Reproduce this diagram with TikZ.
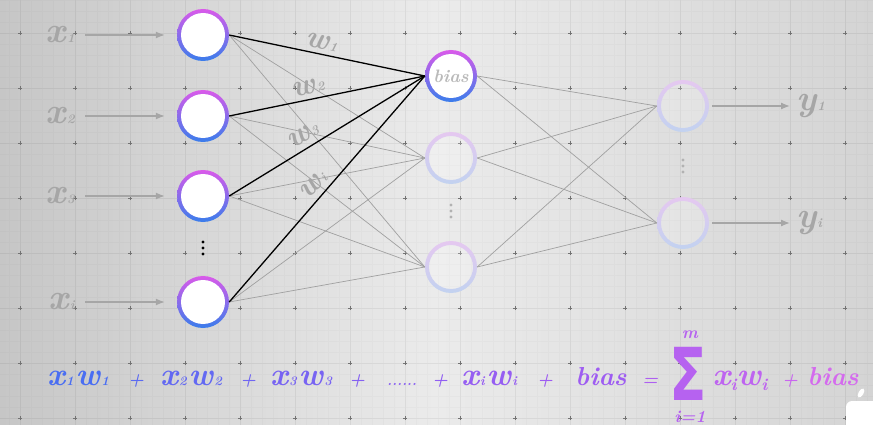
\documentclass[tikz,border=0pt]{standalone}
\usepackage{fontspec}
\newfontfamily\sigmafont{DejaVu Sans}
\usetikzlibrary{arrows.meta}

\definecolor{bgdark}{HTML}{C6C6C6}
\definecolor{bglight}{HTML}{EBEBEB}
\definecolor{bgright}{HTML}{D4D4D4}
\definecolor{ringtop}{HTML}{D95AEA}
\definecolor{ringbot}{HTML}{3A7DEB}
\definecolor{fadetop}{HTML}{E5C8F0}
\definecolor{fadebot}{HTML}{C2D2F0}
\definecolor{labgray}{HTML}{A6A6A6}
\definecolor{edgegray}{HTML}{A0A0A0}
\definecolor{eqA}{HTML}{4A6EF2}
\definecolor{eqB}{HTML}{9E5CF2}
\definecolor{eqC}{HTML}{D46AEE}

\begin{document}
\begin{tikzpicture}[
        x=1pt, y=1pt,
        neuron/.style={circle, minimum size=52pt, inner sep=0pt,
            path picture={
                \shade[top color=ringtop, bottom color=ringbot]
                    (path picture bounding box.north west) rectangle (path picture bounding box.south east);
                \fill[white] (path picture bounding box.center) circle (22);
            }},
        faded/.style={circle, minimum size=52pt, inner sep=0pt,
            path picture={
                \shade[top color=fadetop, bottom color=fadebot, even odd rule]
                    (path picture bounding box.north west) rectangle (path picture bounding box.south east)
                    (path picture bounding box.center) circle (22);
                \fill[white, opacity=0.2] (path picture bounding box.center) circle (22);
            }},
        edge/.style={draw=edgegray, line width=0.7pt},
        biasedge/.style={draw=black, line width=1.3pt},
        inarrow/.style={draw=labgray, line width=1.3pt, -{Latex[length=9pt, width=7pt]}},
        graylabel/.style={text=labgray, inner sep=1pt, font=\fontsize{36}{36}\selectfont\bfseries\itshape},
        wlabel/.style={text=labgray, inner sep=1pt, font=\fontsize{31}{31}\selectfont\bfseries\itshape},
        eqtext/.style={anchor=base, inner sep=0pt, font=\fontsize{32}{32}\selectfont\bfseries\itshape},
        gridmark/.style={black!55, line width=0.4pt}
    ]
    \def\nsub#1#2{#1\kern1pt{\fontsize{13}{13}\selectfont #2}}
    \def\esub#1#2{#1\kern1pt{\fontsize{13}{13}\selectfont #2}\kern2pt}
    \def\dsub#1#2{#1\raisebox{-5pt}{\fontsize{17}{17}\selectfont #2}}

    % background
    \useasboundingbox (0,0) rectangle (873,-425);
    \shade[left color=bgdark, right color=bgright, middle color=bglight] (0,0) rectangle (873,-425);
    \draw[black, opacity=0.02, line width=0.2pt, step=11, xshift=20pt, yshift=-33pt] (-20,33) grid (853,-392);
    \draw[black, opacity=0.04, line width=0.35pt, step=55, xshift=20pt, yshift=-33pt] (-20,33) grid (853,-392);
    \foreach \gx in {0,...,15}
        \foreach \gy in {0,...,7}
            \draw[gridmark] ({20+55*\gx},{-33-55*\gy}) +(-2,0) -- +(2,0) +(0,-2) -- +(0,2);

    % neurons
    \node[neuron] (i1) at (203,-35) {};
    \node[neuron] (i2) at (203,-116) {};
    \node[neuron] (i3) at (203,-196) {};
    \node[neuron] (i4) at (203,-302) {};
    \node[neuron, text=black!27, font=\fontsize{18}{18}\selectfont\bfseries\itshape] (h1) at (451,-76) {bias};
    \node[faded] (h2) at (451,-158) {};
    \node[faded] (h3) at (451,-267) {};
    \node[faded] (o1) at (683,-106) {};
    \node[faded] (o2) at (683,-223) {};

    \foreach \d in {0,6,12} {
        \fill[black] (203,{-242-\d}) circle (1.6);
        \fill[black!30] (451,{-205-\d}) circle (1.6);
        \fill[black!30] (683,{-160-\d}) circle (1.6);
    }

    % connections
    \foreach \i in {i1,i2,i3,i4}
        \foreach \h in {h2,h3}
            \draw[edge] (\i.east) -- (\h.west);
    \foreach \h in {h1,h2,h3}
        \foreach \o in {o1,o2}
            \draw[edge] (\h.east) -- (\o.west);
    \foreach \i in {i1,i2,i3,i4}
        \draw[biasedge] (\i.east) -- (h1.west);

    % inputs and outputs
    \node[graylabel, anchor=east] (x1) at (76,-35) {\nsub{x}{1}};
    \node[graylabel, anchor=east] (x2) at (76,-116) {\nsub{x}{2}};
    \node[graylabel, anchor=east] (x3) at (76,-196) {\nsub{x}{3}};
    \node[graylabel, anchor=east] (x4) at (76,-302) {\nsub{x}{i}};
    \foreach \k in {1,2,3,4}
        \draw[inarrow, shorten <=9pt, shorten >=12pt] (x\k) -- (i\k);

    \node[graylabel, anchor=west] (y1) at (795,-106) {\nsub{y}{1}};
    \node[graylabel, anchor=west] (y2) at (795,-223) {\nsub{y}{i}};
    \draw[inarrow, shorten <=3pt, shorten >=5pt] (o1) -- (y1);
    \draw[inarrow, shorten <=3pt, shorten >=5pt] (o2) -- (y2);

    % weights
    \node[wlabel, rotate=-12] (w1) at (322,-42) {\nsub{w}{1}};
    \node[wlabel, rotate=12] (w2) at (308,-87) {\nsub{w}{2}};
    \node[wlabel, rotate=31] (w3) at (303,-135) {\nsub{w}{3}};
    \node[wlabel, rotate=45] (w4) at (313,-185) {\nsub{w}{i}};

    % equation
    \foreach \piece/\px/\col [count=\k] in {
            {\esub{x}{1}\esub{w}{1}}/79/eqA,
            {\fontsize{18}{18}\selectfont +}/136/eqB!20!eqA,
            {\esub{x}{2}\esub{w}{2}}/192/eqB!30!eqA,
            {\fontsize{18}{18}\selectfont +}/248/eqB!45!eqA,
            {\esub{x}{3}\esub{w}{3}}/302/eqB!55!eqA,
            {\fontsize{18}{18}\selectfont +}/357/eqB!70!eqA,
            {\fontsize{14}{14}\selectfont ......}/402/eqB!75!eqA,
            {\fontsize{18}{18}\selectfont +}/440/eqB!85!eqA,
            {\esub{x}{i}\esub{w}{i}}/490/eqB!90!eqA,
            {\fontsize{18}{18}\selectfont +}/545/eqB,
            {\fontsize{26}{26}\selectfont bias}/601/eqB,
            {\fontsize{18}{18}\selectfont =}/650/eqC!30!eqB,
            {\dsub{x}{i}\dsub{w}{i}}/740/eqC!60!eqB,
            {\fontsize{18}{18}\selectfont +}/790/eqC!80!eqB,
            {\fontsize{26}{26}\selectfont bias}/833/eqC}
        \node[eqtext, text=\col] (eq\k) at (\px,-385) {\piece};
    \node[inner sep=0pt, text=eqC!45!eqB, xscale=0.75, font=\fontsize{73}{73}\selectfont\sigmafont\bfseries] (sum) at (688,-374) {Σ};
    \node[inner sep=0pt, text=eqC!45!eqB, font=\fontsize{17}{17}\selectfont\bfseries\itshape] (sumtop) at (690,-335) {m};
    \node[inner sep=0pt, text=eqC!45!eqB, font=\fontsize{17}{17}\selectfont\bfseries\itshape] (sumbot) at (690,-417) {i=1};

    % corner mark
    \fill[white, rounded corners=6] (846,-401) rectangle (885,-440);
    \fill[white, rotate around={-30:(861,-393)}] (861,-393) ellipse (2.5 and 5);
\end{tikzpicture}
\end{document}
